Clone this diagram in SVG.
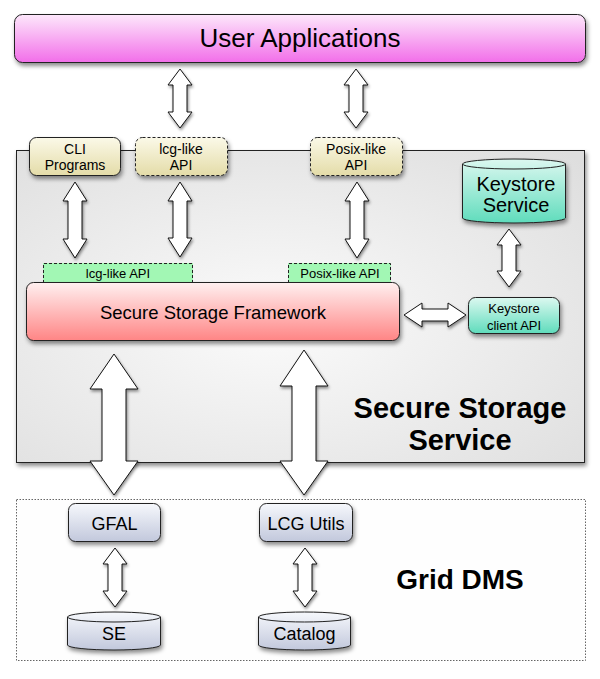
<svg xmlns="http://www.w3.org/2000/svg" width="600" height="679" viewBox="0 0 600 679">
<defs>
<linearGradient id="gPink" x1="0" y1="0" x2="0" y2="1"><stop offset="0" stop-color="#fde8fb"/><stop offset="1" stop-color="#f26ee9"/></linearGradient>
<radialGradient id="gGray" cx="0.45" cy="0.55" r="0.75"><stop offset="0" stop-color="#fbfbfb"/><stop offset="1" stop-color="#dedede"/></radialGradient>
<linearGradient id="gYel" x1="0" y1="0" x2="0" y2="1"><stop offset="0" stop-color="#fbf9e8"/><stop offset="1" stop-color="#e4dca8"/></linearGradient>
<linearGradient id="gRed" x1="0" y1="0" x2="0" y2="1"><stop offset="0" stop-color="#fff0f0"/><stop offset="1" stop-color="#ff8585"/></linearGradient>
<linearGradient id="gTeal" x1="0" y1="0" x2="0" y2="1"><stop offset="0" stop-color="#dcf8f0"/><stop offset="1" stop-color="#5fdcbc"/></linearGradient>
<linearGradient id="gBlue" x1="0" y1="0" x2="0" y2="1"><stop offset="0" stop-color="#f6f8fc"/><stop offset="1" stop-color="#c2c8dc"/></linearGradient>
<filter id="sh" x="-20%" y="-20%" width="140%" height="150%"><feDropShadow dx="1.5" dy="3" stdDeviation="2" flood-color="#000" flood-opacity="0.45"/></filter>
<filter id="shA" x="-50%" y="-20%" width="200%" height="140%"><feDropShadow dx="1" dy="2" stdDeviation="1.8" flood-color="#000" flood-opacity="0.45"/></filter>
</defs>
<style>
.box{stroke:#222;stroke-width:1}
.dash{stroke-dasharray:3 2}
.arr{fill:#fff;stroke:#111;stroke-width:1;stroke-linejoin:miter}
.t{font-family:"Liberation Sans",Arial,sans-serif;fill:#000;text-anchor:middle}
.b{font-weight:bold}
</style>
<rect width="600" height="679" fill="#fff"/>

<g id="grid-dms">
<rect x="16.5" y="499.5" width="569" height="161" fill="#fefefe" stroke="#666" stroke-width="1" stroke-dasharray="1.5 1.5"/>
<text class="t b" x="460" y="589" font-size="28">Grid DMS</text>
</g>

<g id="secure-storage-service">
<rect class="box" x="16.5" y="150.5" width="568" height="312" fill="url(#gGray)" filter="url(#sh)"/>
<text class="t b" x="460" y="418" font-size="29">Secure Storage</text>
<text class="t b" x="460" y="450" font-size="29">Service</text>
</g>

<g id="user-applications">
<rect class="box" x="14.5" y="14.5" width="571" height="48" rx="8" fill="url(#gPink)" filter="url(#sh)"/>
<text class="t" x="300" y="47" font-size="26">User Applications</text>
</g>

<g id="cli-programs">
<rect class="box" x="29.5" y="137.5" width="91" height="38" rx="7" fill="url(#gYel)" filter="url(#sh)"/>
<text class="t" x="75" y="154" font-size="14">CLI</text>
<text class="t" x="75" y="170" font-size="14">Programs</text>
</g>

<g id="lcg-like-api-top">
<rect class="box dash" x="135.5" y="137.5" width="92" height="38" rx="7" fill="url(#gYel)" filter="url(#sh)"/>
<text class="t" x="181" y="154" font-size="14">lcg-like</text>
<text class="t" x="181" y="170" font-size="14">API</text>
</g>

<g id="posix-like-api-top">
<rect class="box dash" x="310.5" y="137.5" width="92" height="38" rx="7" fill="url(#gYel)" filter="url(#sh)"/>
<text class="t" x="356" y="154" font-size="14">Posix-like</text>
<text class="t" x="356" y="170" font-size="14">API</text>
</g>

<g id="keystore-service">
<path class="box" d="M462.5,164 A51.5,5 0 0 1 565.5,164 L565.5,218 A51.5,5 0 0 1 462.5,218 Z" fill="url(#gTeal)" filter="url(#sh)"/>
<path d="M462.5,164 A51.5,5 0 0 0 565.5,164" fill="none" stroke="#222" stroke-width="1"/>
<text class="t" x="516" y="191" font-size="20">Keystore</text>
<text class="t" x="516" y="212" font-size="20">Service</text>
</g>

<g id="lcg-like-api-tab">
<rect x="43" y="263" width="150" height="20" fill="#a2f7b4"/>
<path d="M43.5,283 V263.5 H192.5 V283" fill="none" stroke="#222" stroke-width="1" stroke-dasharray="3 2"/>
<text class="t" x="118" y="278" font-size="13">lcg-like API</text>
</g>

<g id="posix-like-api-tab">
<rect x="288" y="263" width="103" height="20" fill="#a2f7b4"/>
<path d="M288.5,283 V263.5 H390.5 V283" fill="none" stroke="#222" stroke-width="1" stroke-dasharray="3 2"/>
<text class="t" x="340" y="278" font-size="13">Posix-like API</text>
</g>

<g id="secure-storage-framework">
<rect class="box" x="26.5" y="282.5" width="373" height="58" rx="7" fill="url(#gRed)" filter="url(#sh)"/>
<text class="t" x="213" y="319" font-size="18.5">Secure Storage Framework</text>
</g>

<g id="keystore-client-api">
<rect class="box" x="468.5" y="297.5" width="91" height="36" rx="7" fill="url(#gTeal)" filter="url(#sh)"/>
<text class="t" x="514" y="313" font-size="13">Keystore</text>
<text class="t" x="514" y="330" font-size="13">client API</text>
</g>

<g id="gfal">
<rect class="box" x="68.5" y="503.5" width="92" height="38" rx="7" fill="url(#gBlue)" filter="url(#sh)"/>
<text class="t" x="114.5" y="530" font-size="18">GFAL</text>
</g>

<g id="lcg-utils">
<rect class="box" x="259.5" y="503.5" width="93" height="38" rx="7" fill="url(#gBlue)" filter="url(#sh)"/>
<text class="t" x="306" y="530" font-size="18">LCG Utils</text>
</g>

<g id="se">
<path class="box" d="M67.5,617 A46.5,5 0 0 1 160.5,617 L160.5,645 A46.5,5 0 0 1 67.5,645 Z" fill="url(#gBlue)" filter="url(#sh)"/>
<path d="M67.5,617 A46.5,5 0 0 0 160.5,617" fill="none" stroke="#222" stroke-width="1"/>
<text class="t" x="114" y="640" font-size="18">SE</text>
</g>

<g id="catalog">
<path class="box" d="M258.5,617 A46,5 0 0 1 350.5,617 L350.5,645 A46,5 0 0 1 258.5,645 Z" fill="url(#gBlue)" filter="url(#sh)"/>
<path d="M258.5,617 A46,5 0 0 0 350.5,617" fill="none" stroke="#222" stroke-width="1"/>
<text class="t" x="304.5" y="640" font-size="18">Catalog</text>
</g>

<g id="connectors">
<!-- user apps to lcg / posix -->
<path class="arr" filter="url(#shA)" d="M180,69 L192,85 L187,85 L187,112 L192,112 L180,128 L168,112 L173,112 L173,85 L168,85 Z"/>
<path class="arr" filter="url(#shA)" d="M356,69 L368,85 L363,85 L363,112 L368,112 L356,128 L344,112 L349,112 L349,85 L344,85 Z"/>
<!-- top boxes to framework -->
<path class="arr" filter="url(#shA)" d="M75,182 L87,201 L82,201 L82,239 L87,239 L75,258 L63,239 L68,239 L68,201 L63,201 Z"/>
<path class="arr" filter="url(#shA)" d="M180,182 L192,201 L187,201 L187,238 L192,238 L180,257 L168,238 L173,238 L173,201 L168,201 Z"/>
<path class="arr" filter="url(#shA)" d="M357,182 L369,201 L364,201 L364,239 L369,239 L357,258 L345,239 L350,239 L350,201 L345,201 Z"/>
<!-- keystore service to client api -->
<path class="arr" filter="url(#shA)" d="M509,229 L521,245 L516,245 L516,271 L521,271 L509,287 L497,271 L502,271 L502,245 L497,245 Z"/>
<!-- framework to client api -->
<path class="arr" filter="url(#shA)" d="M404,315 L422,303 L422,309 L448,309 L448,303 L466,315 L448,327 L448,321 L422,321 L422,327 Z"/>
<!-- big arrows framework to grid dms -->
<path class="arr" filter="url(#shA)" d="M114,354 L138,389 L126,389 L126,461 L138,461 L114,495 L90,461 L102,461 L102,389 L90,389 Z"/>
<path class="arr" filter="url(#shA)" d="M304,350 L328,386 L316,386 L316,461 L328,461 L304,495 L280,461 L292,461 L292,386 L280,386 Z"/>
<!-- gfal to se, lcg utils to catalog -->
<path class="arr" filter="url(#shA)" d="M115,548 L127,564 L122,564 L122,591 L127,591 L115,607 L103,591 L108,591 L108,564 L103,564 Z"/>
<path class="arr" filter="url(#shA)" d="M305,548 L317,564 L312,564 L312,591 L317,591 L305,607 L293,591 L298,591 L298,564 L293,564 Z"/>
</g>
</svg>
